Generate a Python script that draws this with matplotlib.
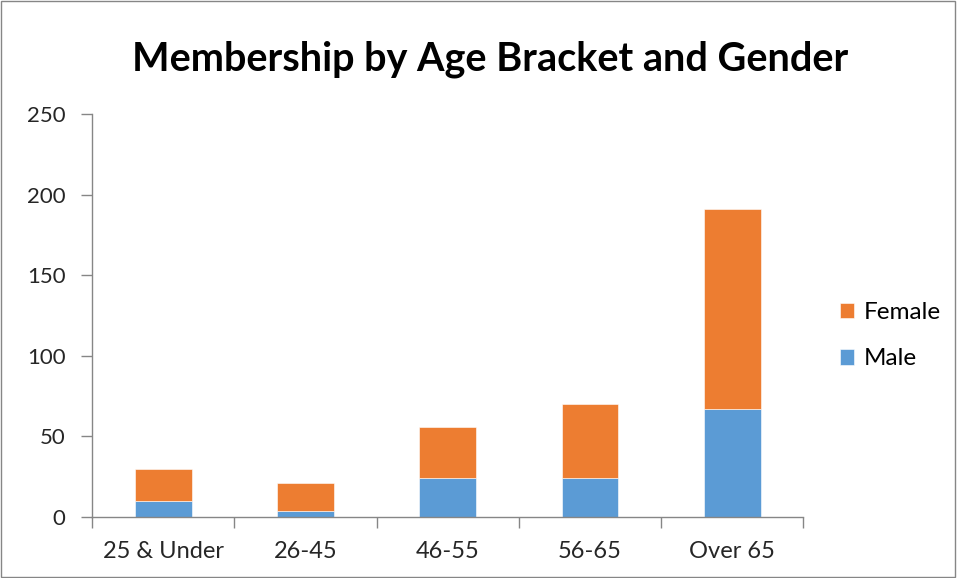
import matplotlib
matplotlib.use("Agg")
import matplotlib.pyplot as plt
from matplotlib.patches import Rectangle
import numpy as np

# data
age_brackets = ["25 & Under", "26-45", "46-55", "56-65", "Over 65"]
male = [10, 4, 24, 24, 67]
female = [20, 17, 32, 46, 124]

plt.rcParams['font.family'] = ['Lato', 'DejaVu Sans']

fig = plt.figure(figsize=(9.57, 5.78), dpi=100)
ax = fig.add_axes([0.0961, 0.1055, 0.7435, 0.6973])

x = np.arange(len(age_brackets))
ax.bar(x, male, width=0.4, color="#5B9BD5", edgecolor="white", linewidth=0.4, label="Male")
ax.bar(x, female, width=0.4, bottom=male, color="#ED7D31", edgecolor="white", linewidth=0.4, label="Female")

ax.set_xlim(-0.5, len(age_brackets) - 0.5)
ax.set_ylim(0, 250)
ax.set_yticks(np.arange(0, 251, 50))

# ticks sit on category boundaries, labels in the middle
ax.set_xticks(np.arange(-0.5, len(age_brackets), 1))
ax.set_xticklabels([])
ax.set_xticks(x, minor=True)
ax.set_xticklabels(age_brackets, minor=True)
ax.tick_params(axis='x', which='major', length=8, width=1, color="#868686", direction='out')
ax.tick_params(axis='x', which='minor', length=0, pad=17, labelsize=17, labelcolor="#262626")
ax.tick_params(axis='y', length=8, width=1, color="#868686", direction='out', pad=11,
               labelsize=16, labelcolor="#262626")

for side in ['top', 'right']:
    ax.spines[side].set_visible(False)
for side in ['left', 'bottom']:
    ax.spines[side].set_color("#868686")
    ax.spines[side].set_linewidth(1)

fig.text(0.512, 0.898, "Membership by Age Bracket and Gender", ha='center', va='center',
         fontsize=28.5, fontweight='bold', color="black")

handles, labels = ax.get_legend_handles_labels()
ax.legend(handles[::-1], labels[::-1], loc='center left', bbox_to_anchor=(1.02, 0.45),
          frameon=False, fontsize=17.5, handlelength=0.6, handleheight=0.6,
          handletextpad=0.4, labelspacing=1.05)

# outer chart border
fig.patches.append(Rectangle((0.001, 0.002), 0.997, 0.996, transform=fig.transFigure,
                             fill=False, edgecolor="#868686", linewidth=1))

fig.savefig("out.png", dpi=100)
